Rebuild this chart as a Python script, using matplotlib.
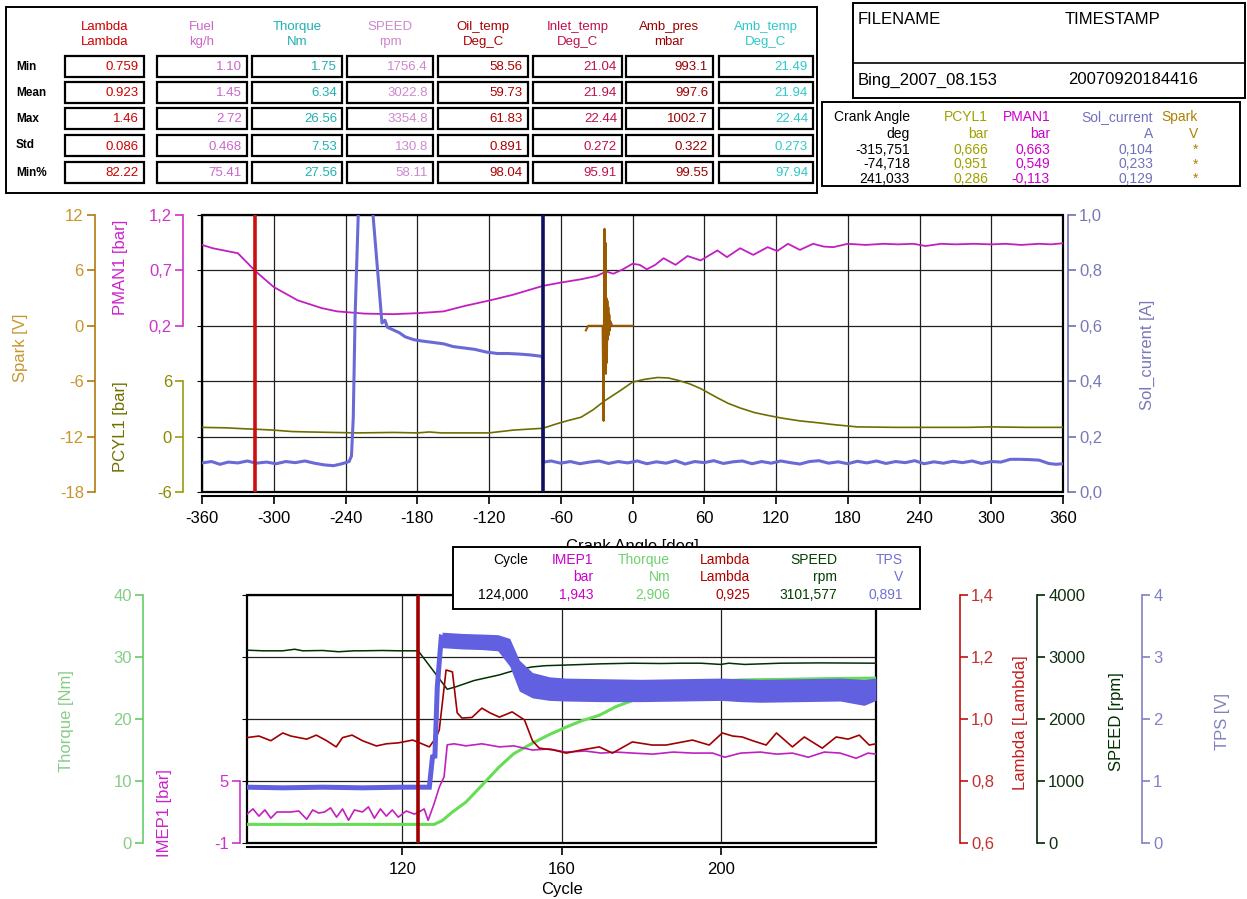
import matplotlib
matplotlib.use('Agg')
import matplotlib.pyplot as plt
from matplotlib.patches import Rectangle

# ---------------- summary statistics block ----------------
stat_rows = ['Min', 'Mean', 'Max', 'Std', 'Min%']
stat_names = ['Lambda', 'Fuel', 'Thorque', 'SPEED', 'Oil_temp', 'Inlet_temp', 'Amb_pres', 'Amb_temp']
stat_units = ['Lambda', 'kg/h', 'Nm', 'rpm', 'Deg_C', 'Deg_C', 'mbar', 'Deg_C']
stat_colors = ['#cc0000', '#cc66cc', '#20b0b0', '#cc88cc', '#aa0000', '#c0104a', '#990000', '#30c8c8']
stat_min = ['0.759', '1.10', '1.75', '1756.4', '58.56', '21.04', '993.1', '21.49']
stat_mean = ['0.923', '1.45', '6.34', '3022.8', '59.73', '21.94', '997.6', '21.94']
stat_max = ['1.46', '2.72', '26.56', '3354.8', '61.83', '22.44', '1002.7', '22.44']
stat_std = ['0.086', '0.468', '7.53', '130.8', '0.891', '0.272', '0.322', '0.273']
stat_minpct = ['82.22', '75.41', '27.56', '58.11', '98.04', '95.91', '99.55', '97.94']

file_name = 'Bing_2007_08.153'
time_stamp = '20070920184416'

# cursor read-out for the crank-angle panel
cur_head = ['Crank Angle', 'PCYL1', 'PMAN1', 'Sol_current', 'Spark']
cur_units = ['deg', 'bar', 'bar', 'A', 'V']
cur_colors = ['black', '#a0a000', '#cc00cc', '#7070c0', '#b08000']
cur_angle = ['-315,751', '-74,718', '241,033']
cur_pcyl1 = ['0,666', '0,951', '0,286']
cur_pman1 = ['0,663', '0,549', '-0,113']
cur_sol = ['0,104', '0,233', '0,129']
cur_spark = ['*', '*', '*']

# ---------------- crank-angle traces ----------------
crank_ticks = [-360, -300, -240, -180, -120, -60, 0, 60, 120, 180, 240, 300, 360]
top_cursors = [-315.751, -74.718]

pman1_deg = [-360, -351, -337, -330, -315, -300, -280, -260, -247, -224, -200, -178, -158, -140, -119,
             -100, -75, -60, -43, -30, -22, -16, -8, 0, 6, 12, 19, 26, 36, 46, 57, 71, 79, 90, 101,
             113, 121, 130, 140, 151, 160, 168, 180, 195, 210, 222, 235, 245, 258, 270, 285, 300, 312,
             325, 340, 350, 360]
pman1_bar = [0.93, 0.90, 0.87, 0.855, 0.69, 0.55, 0.43, 0.36, 0.33, 0.31, 0.305, 0.315, 0.33, 0.38, 0.43,
             0.48, 0.56, 0.59, 0.62, 0.65, 0.69, 0.67, 0.71, 0.76, 0.75, 0.71, 0.75, 0.81, 0.75, 0.83,
             0.79, 0.88, 0.82, 0.90, 0.84, 0.91, 0.875, 0.94, 0.885, 0.94, 0.915, 0.91, 0.94, 0.93, 0.94,
             0.935, 0.94, 0.92, 0.94, 0.935, 0.94, 0.935, 0.94, 0.93, 0.94, 0.935, 0.945]

pcyl1_deg = [-360, -340, -325, -315, -300, -285, -270, -250, -230, -200, -180, -170, -160, -140, -120,
             -100, -88, -75, -63, -55, -43, -33, -23, -10, 0, 10, 21, 30, 38, 48, 57, 71, 80, 90, 102,
             113, 125, 140, 155, 168, 180, 188, 220, 250, 280, 300, 330, 360]
pcyl1_bar = [1.0, 0.95, 0.85, 0.8, 0.7, 0.55, 0.5, 0.45, 0.4, 0.45, 0.4, 0.5, 0.4, 0.4, 0.4,
             0.7, 0.8, 0.9, 1.4, 1.7, 2.1, 2.9, 3.9, 5.0, 5.9, 6.2, 6.4, 6.35, 6.1, 5.7, 5.2, 4.2,
             3.6, 3.1, 2.6, 2.3, 2.0, 1.7, 1.5, 1.3, 1.15, 1.05, 1.0, 1.0, 1.0, 1.05, 1.0, 1.0]

sol_deg = [-360, -352, -345, -338, -330, -322, -315, -306, -298, -290, -282, -274, -266, -258, -250,
           -243, -237, -235, -233.5, -232, -229, -226, -219, -217, -209.5, -207, -205, -200, -195,
           -190, -183, -176, -167, -158, -150, -141, -132, -122, -113, -104, -95, -86, -76, -75,
           -74.5, -68, -60, -52, -44, -36, -28, -20, -12, -4, 4, 12, 20, 28, 36, 44, 52, 60, 68, 76,
           84, 92, 100, 108, 116, 124, 132, 140, 148, 156, 164, 172, 180, 188, 196, 204, 212, 220,
           228, 236, 244, 252, 260, 268, 276, 284, 292, 300, 308, 316, 324, 332, 340, 348, 354, 360]
sol_amp = [0.105, 0.11, 0.10, 0.108, 0.105, 0.112, 0.104, 0.108, 0.102, 0.11, 0.106, 0.112, 0.104,
           0.098, 0.095, 0.102, 0.11, 0.13, 0.27, 0.63, 1.05, 1.3, 1.3, 1.0, 0.61, 0.62, 0.595,
           0.585, 0.575, 0.56, 0.55, 0.545, 0.54, 0.535, 0.525, 0.52, 0.515, 0.505, 0.50, 0.50,
           0.498, 0.495, 0.49, 0.48,
           0.108, 0.112, 0.104, 0.11, 0.102, 0.108, 0.112, 0.103, 0.11, 0.105, 0.112, 0.102, 0.109,
           0.104, 0.113, 0.101, 0.11, 0.106, 0.113, 0.103, 0.109, 0.112, 0.102, 0.11, 0.104, 0.112,
           0.106, 0.101, 0.11, 0.113, 0.104, 0.109, 0.102, 0.111, 0.105, 0.112, 0.103, 0.11, 0.106,
           0.113, 0.102, 0.109, 0.104, 0.111, 0.106, 0.112, 0.103, 0.11, 0.108, 0.118, 0.118, 0.117,
           0.115, 0.103, 0.1, 0.102]

spark_deg = [-39, -37, -33, -25, -24.2, -23.8, -23.4, -23.0, -22.6, -22.2, -21.8, -21.4, -21.0,
             -20.6, -20.2, -19.8, -19.4, -19.0, -18.5, -17, -12, 0]
spark_v = [-0.5, 0, 0, 0, -10.3, 1.5, 10.5, -2, 9, -5.2, 3, -4, 2.7, -1.5, 2, -1, 1.2, -0.5, 0.5,
           0, 0, 0]

# ---------------- cycle traces ----------------
cycle_ticks = [120, 160, 200]
cycle_cursor = 124

cyc_head = ['Cycle', 'IMEP1', 'Thorque', 'Lambda', 'SPEED', 'TPS']
cyc_units = ['', 'bar', 'Nm', 'Lambda', 'rpm', 'V']
cyc_colors = ['black', '#cc00cc', '#70d070', '#b00000', '#004000', '#7070d0']
cyc_values = ['124,000', '1,943', '2,906', '0,925', '3101,577', '0,891']

torque_cyc = [81, 90, 100, 110, 120, 128, 130, 132.6, 136, 140, 144.4, 148, 152.7, 157, 161.2,
              165, 169.5, 173.7, 180, 186, 192, 198, 205, 216.5, 225, 239]
torque_nm = [3.0, 3.0, 3.0, 3.0, 3.0, 3.0, 3.6, 5.0, 6.6, 9.3, 12.3, 14.4, 16.1, 17.5, 18.7,
             19.7, 20.6, 22.0, 23.5, 24.6, 25.4, 26.0, 26.3, 26.4, 26.5, 26.6]

imep_cyc = [81, 82.5, 84, 85.5, 87, 88.5, 90, 92, 94, 96, 97.5, 99, 100.5, 102, 103.5, 105, 106.5,
            108, 110, 111.5, 113, 114.5, 116, 117.5, 119, 121, 123, 124, 125.5, 126.5, 128, 129.3,
            130.5, 131.3, 133, 136, 140, 144.4, 148, 152.7, 157, 161, 166, 170, 173.7, 178, 183,
            188, 193, 198, 201, 205, 210, 214, 218, 222, 226, 230, 234, 237, 239]
imep_bar = [1.8, 2.3, 1.6, 2.2, 1.4, 2.0, 2.0, 2.0, 2.1, 1.3, 2.2, 1.9, 2.0, 2.4, 1.5, 2.3, 1.2,
            2.2, 2.0, 2.5, 1.4, 2.3, 1.6, 2.2, 1.5, 2.1, 1.8, 1.95, 2.3, 1.2, 2.8, 4.4, 5.4, 8.5,
            8.6, 8.4, 8.6, 8.3, 8.4, 8.0, 8.1, 7.8, 7.9, 7.7, 7.8, 7.7, 7.6, 7.8, 7.7, 7.7, 7.3,
            7.7, 7.8, 7.6, 7.7, 7.3, 7.8, 7.7, 7.2, 7.7, 7.6]

lambda_cyc = [81, 84, 87, 90, 92, 94, 96, 98.4, 101, 103.4, 105, 107.4, 110, 113.5, 116, 119,
              122.6, 124, 126.8, 128.5, 129.3, 130.5, 131, 132.6, 133.8, 135, 137.5, 140, 142,
              144.4, 147.6, 150.7, 152.7, 154.4, 158, 161.2, 165, 169.5, 172.8, 177.8, 182.8,
              186.3, 192.9, 197.1, 200.4, 203, 205.4, 208, 211.4, 214, 218, 221, 225.5, 229, 232,
              234.8, 237.3, 239]
lambda_val = [0.94, 0.945, 0.93, 0.955, 0.945, 0.94, 0.935, 0.948, 0.93, 0.91, 0.94, 0.948, 0.93,
              0.913, 0.92, 0.923, 0.932, 0.925, 0.91, 0.94, 0.965, 1.10, 1.158, 1.152, 1.02, 1.003,
              1.005, 1.035, 1.02, 1.006, 1.023, 0.997, 0.93, 0.906, 0.90, 0.89, 0.90, 0.91, 0.89,
              0.926, 0.916, 0.916, 0.932, 0.916, 0.955, 0.945, 0.942, 0.93, 0.916, 0.955, 0.91,
              0.942, 0.906, 0.942, 0.935, 0.948, 0.916, 0.92]

speed_cyc = [81, 85, 90, 93, 95, 100, 104, 108, 110, 115, 119, 124, 131.3, 133.5, 138, 144.3, 148,
             152.6, 156, 161, 170, 177.8, 185, 190, 195, 200, 202, 206, 215, 225, 239]
speed_rpm = [3110, 3100, 3100, 3125, 3100, 3105, 3085, 3100, 3100, 3105, 3100, 3100, 2480, 2520,
             2620, 2710, 2780, 2840, 2860, 2870, 2890, 2900, 2895, 2900, 2900, 2880, 2900, 2880,
             2900, 2905, 2900]

tps_cyc = [81, 90, 100, 110, 120, 126.8, 127.6, 128.2, 128.8, 129.8, 131, 135, 140, 144.4, 147,
           149.4, 152.7, 157, 161, 170, 180, 190, 200, 210, 220, 230, 239]
tps_v = [0.90, 0.89, 0.90, 0.89, 0.90, 0.90, 1.39, 1.40, 2.52, 3.32, 3.30, 3.28, 3.27, 3.23, 3.06,
         2.68, 2.60, 2.55, 2.52, 2.50, 2.48, 2.47, 2.47, 2.48, 2.47, 2.46, 2.45]
tps_band_cyc = [130, 135, 140, 144, 147, 149.4, 152.7, 157, 161, 170, 180, 190, 200, 205, 210,
                220, 230, 236, 239]
tps_band_hi = [3.40, 3.38, 3.37, 3.36, 3.30, 2.95, 2.75, 2.68, 2.66, 2.65, 2.64, 2.65, 2.66, 2.65,
               2.64, 2.65, 2.66, 2.64, 2.66]
tps_band_lo = [3.15, 3.13, 3.12, 3.10, 2.85, 2.45, 2.34, 2.30, 2.29, 2.28, 2.28, 2.29, 2.30, 2.28,
               2.27, 2.28, 2.29, 2.22, 2.30]

W, H = 1247, 899
plt.rcParams['font.family'] = ['Liberation Sans', 'DejaVu Sans']
fig = plt.figure(figsize=(W / 100, H / 100), dpi=100)


def px_rect(left, top, right, bottom):
    return [left / W, 1 - bottom / H, (right - left) / W, (bottom - top) / H]


def add_scale(host, pos, side, lim, ticks, labels, color, label_color):
    ax = host.twinx()
    ax.set_ylim(*lim)
    for s in ax.spines.values():
        s.set_visible(False)
    sp = ax.spines[side]
    sp.set_visible(True)
    sp.set_position(('axes', pos))
    sp.set_color(color)
    sp.set_linewidth(1.2)
    sp.set_bounds(ticks[0], ticks[-1])
    ax.yaxis.set_ticks_position(side)
    ax.set_yticks(ticks, labels=labels)
    ax.tick_params(axis='y', colors=color, labelcolor=label_color, length=6, width=1.2,
                   labelsize=12, pad=2)
    return ax


def grid_host(rect, xlim, nrows, xticks):
    ax = fig.add_axes(rect)
    ax.set_xlim(*xlim)
    ax.set_ylim(0, nrows)
    ax.set_yticks(range(nrows + 1))
    ax.set_xticks(xticks, labels=[str(t) for t in xticks])
    ax.grid(True, color='#202020', lw=0.9)
    ax.tick_params(axis='y', left=False, labelleft=False)
    ax.tick_params(axis='x', direction='out', length=6, width=1.2, labelsize=12, pad=5)
    for s in ('left', 'right', 'top'):
        ax.spines[s].set_visible(False)
    ax.spines['bottom'].set_position(('outward', 3))
    ax.spines['bottom'].set_linewidth(1.5)
    ax.add_patch(Rectangle((0, 0), 1, 1, transform=ax.transAxes, fill=False, lw=1.6,
                           ec='black', clip_on=False, zorder=5))
    return ax


# ---------------- crank-angle panel ----------------
top = grid_host(px_rect(202, 215, 1063, 492), (-360, 360), 5, crank_ticks)
top.set_xlabel('Crank Angle [deg]', fontsize=12, labelpad=9)

ax_pman = add_scale(top, -0.022, 'left', (-1.3, 1.2), [0.2, 0.7, 1.2], ['0,2', '0,7', '1,2'],
                    '#cc33cc', '#cc33cc')
ax_pman.plot(pman1_deg, pman1_bar, color='#c020c0', lw=1.3)

ax_pcyl = add_scale(top, -0.022, 'left', (-6, 24), [-6, 0, 6], ['-6', '0', '6'],
                    '#9a9a10', '#8a8a00')
ax_pcyl.plot(pcyl1_deg, pcyl1_bar, color='#6e6e00', lw=1.2)

ax_spark = add_scale(top, -0.1243, 'left', (-18, 12), [-18, -12, -6, 0, 6, 12],
                     ['-18', '-12', '-6', '0', '6', '12'], '#b07a10', '#c8962e')
ax_spark.plot(spark_deg, spark_v, color='#9a5a00', lw=1.5)

ax_sol = add_scale(top, 1.0058, 'right', (0, 1.0), [0, 0.2, 0.4, 0.6, 0.8, 1.0],
                   ['0,0', '0,2', '0,4', '0,6', '0,8', '1,0'], '#7070b0', '#7878b8')
ax_sol.plot(sol_deg, sol_amp, color='#6a6ad6', lw=2.2)

for x, c in zip(top_cursors, ['#cc1010', '#101060']):
    ax_sol.axvline(x, color=c, lw=2.6, zorder=6)

# ---------------- cycle panel ----------------
bot = grid_host(px_rect(247, 595, 876, 843), (81, 239), 4, cycle_ticks)

ax_trq = add_scale(bot, -0.1653, 'left', (0, 40), [0, 10, 20, 30, 40],
                   ['0', '10', '20', '30', '40'], '#66cc66', '#88cc88')
ax_trq.plot(torque_cyc, torque_nm, color='#66dd55', lw=2.2)

ax_imep = add_scale(bot, -0.0111, 'left', (-1, 23), [-1, 5], ['-1', '5'], '#cc33cc', '#cc33cc')
ax_imep.plot(imep_cyc, imep_bar, color='#c020c0', lw=1.2)

ax_spd = add_scale(bot, 1.256, 'right', (0, 4000), [0, 1000, 2000, 3000, 4000],
                   ['0', '1000', '2000', '3000', '4000'], '#002800', '#103010')
ax_spd.plot(speed_cyc, speed_rpm, color='#003000', lw=1.1)

ax_lam = add_scale(bot, 1.1335, 'right', (0.6, 1.4), [0.6, 0.8, 1.0, 1.2, 1.4],
                   ['0,6', '0,8', '1,0', '1,2', '1,4'], '#c01010', '#c03030')
ax_lam.plot(lambda_cyc, lambda_val, color='#a00000', lw=1.2)

ax_tps = add_scale(bot, 1.423, 'right', (0, 4), [0, 1, 2, 3, 4], ['0', '1', '2', '3', '4'],
                   '#8080c8', '#8080c8')
ax_tps.plot(tps_cyc, tps_v, color='#6060e0', lw=3.6, solid_joinstyle='miter')
ax_tps.fill_between(tps_band_cyc, tps_band_lo, tps_band_hi, color='#6060e0', lw=0)
ax_tps.axvline(cycle_cursor, color='#a00000', lw=2.6, zorder=6)

# ---------------- text blocks on top ----------------
ov = fig.add_axes([0, 0, 1, 1])
ov.set_xlim(0, W)
ov.set_ylim(H, 0)
ov.axis('off')


def frame(l, t, r, b, lw=1.4):
    ov.add_patch(Rectangle((l, t), r - l, b - t, fill=True, fc='white', ec='black', lw=lw))


# axis titles
ov.text(20, 348, 'Spark [V]', color='#c8962e', fontsize=12, rotation=90, ha='center', va='center')
ov.text(120, 267, 'PMAN1 [bar]', color='#cc22cc', fontsize=12, rotation=90, ha='center', va='center')
ov.text(120, 427, 'PCYL1 [bar]', color='#707000', fontsize=12, rotation=90, ha='center', va='center')
ov.text(1147, 355, 'Sol_current [A]', color='#7878b8', fontsize=12, rotation=90, ha='center', va='center')
ov.text(66, 721, 'Thorque [Nm]', color='#88cc88', fontsize=12, rotation=90, ha='center', va='center')
ov.text(165, 813, 'IMEP1 [bar]', color='#cc22cc', fontsize=12, rotation=90, ha='center', va='center')
ov.text(1020, 723, 'Lambda [Lambda]', color='#c02020', fontsize=12, rotation=90, ha='center', va='center')
ov.text(1117, 722, 'SPEED [rpm]', color='#003000', fontsize=12, rotation=90, ha='center', va='center')
ov.text(1222, 722, 'TPS [V]', color='#8080c0', fontsize=12, rotation=90, ha='center', va='center')
ov.text(562, 897, 'Cycle', color='black', fontsize=12, ha='center', va='bottom')

# statistics table
frame(6, 7, 817, 193)
cell_left = [65, 157, 252, 347, 438, 533, 626, 719]
cell_right = [144, 247, 342, 433, 528, 622, 713, 813]
row_top = [56, 82, 108, 135, 162]
cell_h = 21
stat_table = [stat_min, stat_mean, stat_max, stat_std, stat_minpct]
for j, (name, unit, col) in enumerate(zip(stat_names, stat_units, stat_colors)):
    cx = (cell_left[j] + cell_right[j]) / 2
    ov.text(cx, 27, name, color=col, fontsize=9.5, ha='center', va='center')
    ov.text(cx, 42, unit, color=col, fontsize=9.5, ha='center', va='center')
for i, (label, vals) in enumerate(zip(stat_rows, stat_table)):
    y0 = row_top[i]
    ov.text(16, y0 + cell_h / 2, label, fontsize=8.5, weight='bold', ha='left', va='center')
    for j, v in enumerate(vals):
        frame(cell_left[j], y0, cell_right[j], y0 + cell_h, lw=1.6)
        ov.text(cell_right[j] - 5, y0 + cell_h / 2 + 1, v, color=stat_colors[j], fontsize=9.5,
                ha='right', va='center')

# file information
frame(853, 3, 1245, 98)
ov.plot([853, 1245], [63, 63], color='black', lw=1.2)
ov.text(858, 20, 'FILENAME', fontsize=12, ha='left', va='center')
ov.text(1065, 20, 'TIMESTAMP', fontsize=12, ha='left', va='center')
ov.text(858, 80, file_name, fontsize=12, ha='left', va='center')
ov.text(1068, 80, time_stamp, fontsize=12, ha='left', va='center')

# crank-angle cursor read-out
frame(822, 102, 1240, 186)
cur_right = [910, 988, 1050, 1153, 1198]
cur_cols = [cur_angle, cur_pcyl1, cur_pman1, cur_sol, cur_spark]
for j in range(5):
    ov.text(cur_right[j], 117, cur_head[j], color=cur_colors[j], fontsize=10, ha='right', va='center')
    ov.text(cur_right[j], 134, cur_units[j], color=cur_colors[j], fontsize=10, ha='right', va='center')
    for i, v in enumerate(cur_cols[j]):
        ov.text(cur_right[j], 150 + 14.5 * i, v, color=cur_colors[j], fontsize=10,
                ha='right', va='center')

# cycle cursor read-out, covering the lower part of the crank-angle label
frame(453, 547, 920, 609)
cyc_right = [528, 593, 670, 750, 837, 903]
for j in range(6):
    ov.text(cyc_right[j], 560, cyc_head[j], color=cyc_colors[j], fontsize=10, ha='right', va='center')
    ov.text(cyc_right[j], 577, cyc_units[j], color=cyc_colors[j], fontsize=10, ha='right', va='center')
    ov.text(cyc_right[j], 595, cyc_values[j], color=cyc_colors[j], fontsize=10, ha='right', va='center')

fig.savefig('out.png', dpi=100, facecolor='white')
